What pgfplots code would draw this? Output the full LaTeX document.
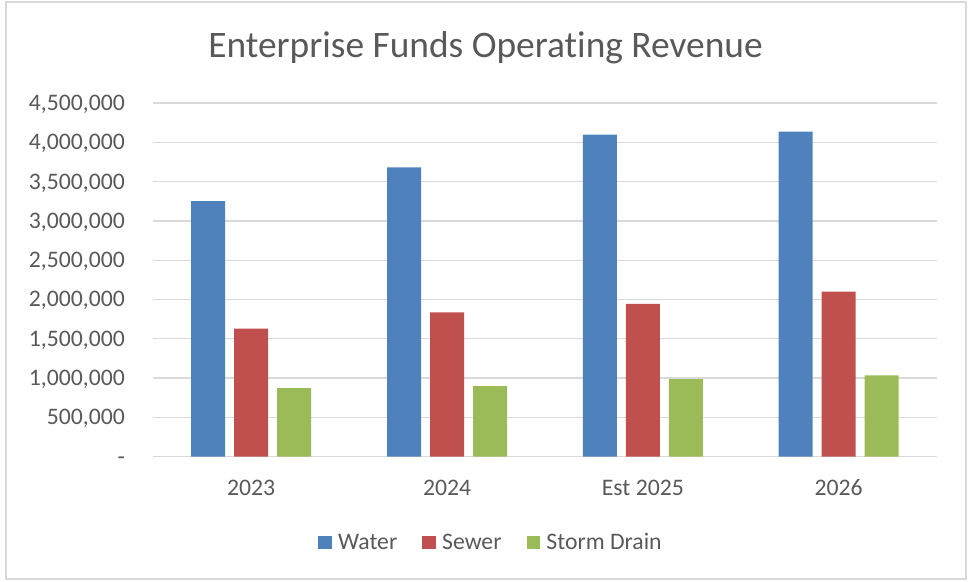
\documentclass[border=0pt]{standalone}
\usepackage{fontspec}
\setmainfont[Ligatures=NoCommon]{Carlito}
\usepackage{pgfplots}
\pgfplotsset{compat=1.18}
\definecolor{wblue}{HTML}{4F81BD}
\definecolor{sred}{HTML}{C0504D}
\definecolor{dgreen}{HTML}{9BBB59}
\definecolor{gridgray}{HTML}{D9D9D9}
\definecolor{txtgray}{HTML}{595959}
\begin{document}
\begin{tikzpicture}[x=1pt,y=1pt]
\useasboundingbox (0,0) rectangle (971,581);
\draw[color=gridgray, line width=1.3pt] (6,2) rectangle (966,579);
\begin{axis}[
  at={(153.3pt,124.3pt)}, anchor=south west,
  scale only axis, width=783.3pt, height=353.7pt,
  xmin=-0.5, xmax=3.5, ymin=0, ymax=4500000,
  ybar=9pt, bar width=34pt,
  xtick={0,1,2,3}, xticklabels={2023,2024,Est 2025,2026},
  ytick={0,500000,1000000,1500000,2000000,2500000,3000000,3500000,4000000,4500000},
  yticklabels={-,{500,000},{1,000,000},{1,500,000},{2,000,000},{2,500,000},{3,000,000},{3,500,000},{4,000,000},{4,500,000}},
  scaled y ticks=false,
  axis line style={draw=none}, major tick length=0pt,
  ymajorgrids, grid style={color=gridgray, line width=1.3pt},
  tick label style={font=\fontsize{23.7}{28}\selectfont, text=txtgray, inner sep=0pt},
  yticklabel style={anchor=base east, xshift=-28.3pt, yshift=-7.5pt},
  xticklabel style={anchor=base, yshift=-38.3pt},
  legend columns=3,
  legend style={at={(0.4298,-0.242)}, anchor=center, draw=none, fill=none,
    font=\fontsize{23.7}{28}\selectfont, text=txtgray,
    /tikz/column sep=0pt,
    /tikz/every even column/.append style={column sep=25pt},
    nodes={inner xsep=0pt, inner ysep=2pt}},
  legend cell align=left,
]
\addplot[fill=wblue, draw=none, legend image code/.code={\fill[wblue] (0pt,-6.65pt) rectangle (13.3pt,6.65pt); \path (19.9pt,0pt);}]
  coordinates {(0,3253000) (1,3682000) (2,4097000) (3,4135000)};
\addplot[fill=sred, draw=none, legend image code/.code={\fill[sred] (0pt,-6.65pt) rectangle (13.3pt,6.65pt); \path (19.9pt,0pt);}]
  coordinates {(0,1628000) (1,1837000) (2,1943000) (3,2099000)};
\addplot[fill=dgreen, draw=none, legend image code/.code={\fill[dgreen] (0pt,-6.65pt) rectangle (13.3pt,6.65pt); \path (19.9pt,0pt);}]
  coordinates {(0,874000) (1,899000) (2,988000) (3,1036000)};
\legend{Water,Sewer,Storm Drain}
\end{axis}
\node[anchor=base, font=\fontsize{37.4}{44}\selectfont, text=txtgray] at (485.5,523.7) {Enterprise Funds Operating Revenue};
\end{tikzpicture}
\end{document}
